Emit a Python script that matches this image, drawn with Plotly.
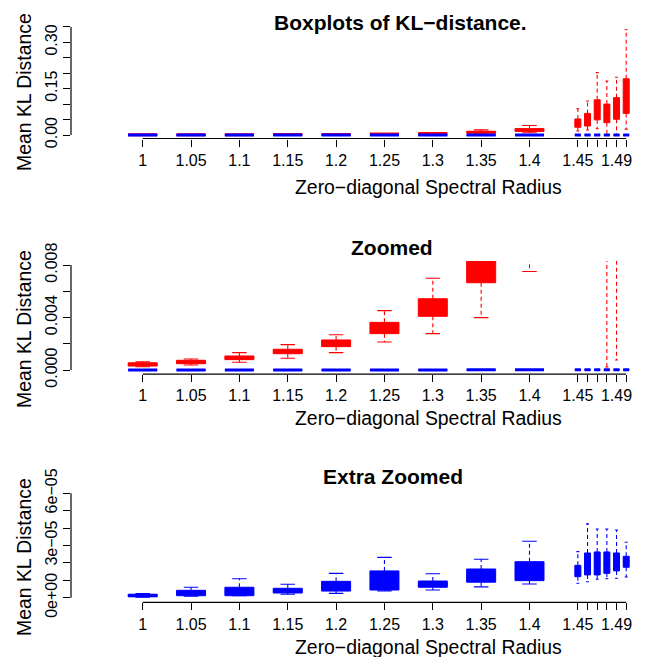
import plotly.graph_objects as go

# ---------------- data ----------------
radius = [1.00, 1.05, 1.10, 1.15, 1.20, 1.25, 1.30, 1.35, 1.40,
          1.45, 1.46, 1.47, 1.48, 1.49, 1.50]
x_tick_labels = ["1", "1.05", "1.1", "1.15", "1.2", "1.25", "1.3", "1.35", "1.4",
                 "1.45", "", "", "", "1.49", ""]

# red series (five-number summaries)
red_low  = [0.00025, 0.00038, 0.00059, 0.00089, 0.00132, 0.00213, 0.00277, 0.00399, 0.0075,
            0.013, 0.016, 0.020, 0.00023, 0.00076, 0.019]
red_q1   = [0.00030, 0.00048, 0.00079, 0.00124, 0.00178, 0.00277, 0.00409, 0.00665, 0.0118,
            0.025, 0.029, 0.049, 0.040, 0.051, 0.070]
red_med  = [0.00042, 0.00060, 0.00093, 0.00140, 0.00200, 0.00320, 0.00470, 0.00880, 0.0160,
            0.038, 0.045, 0.080, 0.070, 0.080, 0.120]
red_q3   = [0.00055, 0.00074, 0.00107, 0.00158, 0.00229, 0.00363, 0.00543, 0.01120, 0.0205,
            0.052, 0.070, 0.114, 0.100, 0.121, 0.182]
red_high = [0.00062, 0.00084, 0.00132, 0.00193, 0.00269, 0.00452, 0.00699, 0.01650, 0.0310,
            0.085, 0.110, 0.202, 0.175, 0.187, 0.341]

# blue series
blue_low  = [0.3e-6, 0.8e-6, 1.1e-6, 2.0e-6, 2.5e-6, 3.9e-6, 4.4e-6, 6.2e-6, 7.9e-6,
             8.3e-6, 9.2e-6, 10.6e-6, 10.9e-6, 11.2e-6, 11.9e-6]
blue_q1   = [0.5e-6, 1.15e-6, 1.15e-6, 2.7e-6, 3.8e-6, 4.4e-6, 6.0e-6, 8.9e-6, 9.8e-6,
             12.1e-6, 13.1e-6, 13.1e-6, 14.0e-6, 15.4e-6, 17.5e-6]
blue_med  = [1.2e-6, 2.5e-6, 3.0e-6, 4.0e-6, 6.0e-6, 9.0e-6, 7.8e-6, 12.0e-6, 14.0e-6,
             15.0e-6, 19.0e-6, 20.0e-6, 20.0e-6, 20.0e-6, 21.0e-6]
blue_q3   = [2.0e-6, 4.25e-6, 6.0e-6, 5.4e-6, 9.4e-6, 15.4e-6, 9.6e-6, 16.5e-6, 20.7e-6,
             18.6e-6, 25.7e-6, 26.3e-6, 26.3e-6, 25.7e-6, 23.8e-6]
blue_high = [2.4e-6, 6.0e-6, 10.9e-6, 7.7e-6, 14.0e-6, 23.2e-6, 13.8e-6, 22.1e-6, 32.4e-6,
             26.5e-6, 42.4e-6, 39.5e-6, 39.5e-6, 38.9e-6, 31.9e-6]

titles = ["Boxplots of KL\u2212distance.", "Zoomed", "Extra Zoomed"]
x_title = "Zero\u2212diagonal Spectral Radius"
y_title = "Mean KL Distance"

y_ticks_1 = [0.00, 0.05, 0.10, 0.15, 0.20, 0.25, 0.30, 0.35]
y_labels_1 = ["0.00", "", "", "0.15", "", "", "0.30", ""]
y_ticks_2 = [0.000, 0.002, 0.004, 0.006, 0.008]
y_labels_2 = ["0.000", "", "0.004", "", "0.008"]
y_ticks_3 = [0, 1e-5, 2e-5, 3e-5, 4e-5, 5e-5, 6e-5]
y_labels_3 = ["0e+00", "", "", "3e\u221205", "", "", "6e\u221205"]

# ---------------- layout constants (pixels) ----------------
W, H = 646, 657
FONT = "Liberation Sans, Arial, Helvetica, sans-serif"
PLOT_LEFT, PLOT_RIGHT = 71, 646
X_FIRST_PX = 142.7          # pixel of first radius
X_PX_PER_UNIT = 967.0
WIDE_BOX, NARROW_BOX = 0.030, 0.0062

x_range = [radius[0] - (X_FIRST_PX - PLOT_LEFT) / X_PX_PER_UNIT,
           radius[0] + (PLOT_RIGHT - X_FIRST_PX) / X_PX_PER_UNIT]

# (top px, bottom px, zero px, data units per px)
panel_geom = [
    (20.0, 138.5, 135.0, 0.05 / 15.44),
    (261.0, 374.2, 370.0, 0.008 / 105.0),
    (490.0, 602.3, 597.7, 6e-5 / 104.4),
]
panel_ticks = [(y_ticks_1, y_labels_1), (y_ticks_2, y_labels_2), (y_ticks_3, y_labels_3)]
title_pos = [(400, 23), (392, 247.5), (393, 476)]
xlab_pos = [(428, 186.5), (428, 418), (428, 647)]
ylab_pos = [(24, 92), (24, 329), (24, 557)]


def px_x(p):
    return p / W


def px_y(p):
    return 1 - p / H


def box_traces(xa, ya, low, q1, med, q3, high, color):
    bx, by, wx, wy, sx, sy, mx, my = [], [], [], [], [], [], [], []
    for i, r in enumerate(radius):
        w = WIDE_BOX if r <= 1.4 + 1e-9 else NARROW_BOX
        bx += [r - w / 2, r + w / 2, r + w / 2, r - w / 2, r - w / 2, None]
        by += [q1[i], q1[i], q3[i], q3[i], q1[i], None]
        wx += [r, r, None, r, r, None]
        wy += [q3[i], high[i], None, q1[i], low[i], None]
        sx += [r - w / 4, r + w / 4, None, r - w / 4, r + w / 4, None]
        sy += [high[i], high[i], None, low[i], low[i], None]
        mx += [r - w / 2, r + w / 2, None]
        my += [med[i], med[i], None]
    common = dict(xaxis=xa, yaxis=ya, showlegend=False, hoverinfo="skip")
    return [
        go.Scatter(x=wx, y=wy, mode="lines", line=dict(color=color, width=1.1, dash="4px,3px"), **common),
        go.Scatter(x=sx, y=sy, mode="lines", line=dict(color=color, width=1.1), **common),
        go.Scatter(x=bx, y=by, mode="lines", fill="toself", fillcolor=color,
                   line=dict(color=color, width=1), **common),
        go.Scatter(x=mx, y=my, mode="lines", line=dict(color=color, width=3), **common),
    ]


fig = go.Figure()
layout = dict(width=W, height=H, autosize=False,
              margin=dict(l=0, r=0, t=0, b=0, pad=0, autoexpand=False),
              paper_bgcolor="white", plot_bgcolor="white", showlegend=False,
              font=dict(family=FONT, color="black"))
shapes, annotations = [], []

for k in range(3):
    n = "" if k == 0 else str(k + 1)
    xa, ya = "x" + n, "y" + n
    top, bot, zero, upp = panel_geom[k]
    yt, yl = panel_ticks[k]

    for tr in box_traces(xa, ya, red_low, red_q1, red_med, red_q3, red_high, "#ff0000"):
        fig.add_trace(tr)
    for tr in box_traces(xa, ya, blue_low, blue_q1, blue_med, blue_q3, blue_high, "#0000ff"):
        fig.add_trace(tr)

    layout["xaxis" + n] = dict(
        domain=[px_x(PLOT_LEFT), px_x(PLOT_RIGHT)], range=x_range, anchor=ya,
        tickmode="array", tickvals=radius, ticktext=x_tick_labels,
        ticks="outside", ticklen=7, tickwidth=1, tickcolor="black",
        showline=False, showgrid=False, zeroline=False, automargin=False,
        tickfont=dict(family=FONT, size=16, color="black"), tickangle=0,
        ticklabelstandoff=0,
    )
    layout["yaxis" + n] = dict(
        domain=[px_y(bot), px_y(top)],
        range=[(zero - bot) * upp, (zero - top) * upp], anchor=xa,
        tickmode="array", tickvals=yt, ticktext=yl,
        ticks="outside", ticklen=7, tickwidth=1, tickcolor="black",
        showline=False, showgrid=False, zeroline=False, automargin=False,
        tickfont=dict(family=FONT, size=16, color="black"), tickangle=-90,
        ticklabelstandoff=0,
    )
    shapes.append(dict(type="line", xref=xa, yref=ya + " domain", x0=radius[0], x1=radius[-1],
                       y0=0, y1=0, line=dict(color="black", width=1.2)))
    shapes.append(dict(type="line", xref=xa + " domain", yref=ya, x0=0, x1=0,
                       y0=yt[0], y1=yt[-1], line=dict(color="black", width=1.2)))

    tx, ty = title_pos[k]
    annotations.append(dict(text="<b>" + titles[k] + "</b>", x=px_x(tx), y=px_y(ty),
                            xref="paper", yref="paper", xanchor="center", yanchor="middle",
                            showarrow=False, font=dict(family=FONT, size=21, color="black")))
    lx, ly = xlab_pos[k]
    annotations.append(dict(text=x_title, x=px_x(lx), y=px_y(ly), xref="paper", yref="paper",
                            xanchor="center", yanchor="middle", showarrow=False,
                            font=dict(family=FONT, size=19.4, color="black")))
    yx, yy = ylab_pos[k]
    annotations.append(dict(text=y_title, x=px_x(yx), y=px_y(yy), xref="paper", yref="paper",
                            xanchor="center", yanchor="middle", showarrow=False, textangle=-90,
                            font=dict(family=FONT, size=19.4, color="black")))

layout["shapes"] = shapes
layout["annotations"] = annotations
fig.update_layout(**layout)
fig.write_html("out.html")
